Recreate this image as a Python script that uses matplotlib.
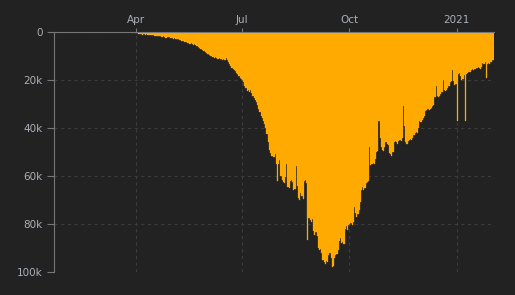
import numpy as np
import pandas as pd
import matplotlib
matplotlib.use("Agg")
import matplotlib.pyplot as plt

# daily new cases, thousands, 22 Jan 2020 -> 1 Feb 2021
jan_2020 = [0, 0, 0, 0, 0, 0, 0, 0, 0.001, 0]
feb_2020 = [0, 0.001, 0.001] + [0] * 26
mar_2020 = [0, 0, 0.003, 0.023, 0.002, 0.001, 0.003, 0.005, 0.009, 0.015, 0.006,
            0.011, 0.010, 0.020, 0.011, 0.006, 0.023, 0.014, 0.038, 0.050, 0.086,
            0.066, 0.103, 0.037, 0.121, 0.070, 0.160, 0.100, 0.227, 0.146, 0.601]
apr_2020 = [0.5, 0.6, 0.9, 1.0, 0.8, 1.1, 0.9, 1.0, 1.2, 1.0, 1.3, 1.2, 1.1, 1.2, 1.3,
            1.4, 1.5, 1.6, 1.5, 1.7, 1.6, 1.8, 1.9, 1.7, 2.0, 2.5, 2.3, 2.0, 2.2, 2.4]
may_2020 = [2.3, 2.6, 2.8, 2.7, 3.0, 2.9, 3.1, 3.2, 3.4, 3.6, 3.8, 4.0, 4.1, 4.3, 4.5,
            4.6, 4.8, 4.7, 5.0, 5.3, 5.2, 5.5, 5.8, 6.2, 6.6, 6.9, 7.2, 7.5, 7.8, 8.2, 8.6]
jun_2020 = [9.0, 9.3, 9.6, 9.9, 10.3, 10.6, 10.8, 10.5, 10.9, 11.2, 11.0, 11.4, 11.3,
            11.6, 11.2, 11.5, 11.0, 11.8, 12.5, 13.4, 14.2, 14.8, 15.4, 15.8, 16.4,
            17.0, 17.5, 18.2, 19.0, 19.4]
jul_2020 = [20.0, 21.0, 22.5, 23.5, 24.5, 24.0, 25.0, 24.2, 25.5, 26.5, 27.5, 28.5,
            29.0, 30.5, 32.0, 33.5, 35.0, 36.0, 37.2, 38.5, 40.0, 42.5, 46.0, 49.0,
            50.5, 51.5, 51.8, 52.0, 51.0, 55.0, 62.0]
aug_2020 = [55.0, 53.5, 60.0, 61.5, 62.5, 63.0, 60.5, 55.0, 64.5, 65.0, 62.0, 61.5,
            62.5, 66.0, 65.5, 56.0, 64.0, 69.0, 70.0, 67.0, 68.5, 69.5, 62.0, 61.5,
            63.0, 86.5, 77.5, 78.5, 79.0, 78.0, 83.0]
sep_2020 = [84.5, 83.5, 85.0, 90.0, 91.0, 90.5, 92.0, 95.0, 96.0, 96.5, 95.5, 96.0,
            93.0, 92.0, 94.0, 98.0, 97.5, 94.0, 93.0, 92.5, 91.0, 87.0, 86.0, 88.0,
            87.5, 88.5, 82.0, 81.0, 82.5, 80.5]
oct_2020 = [80.0, 79.5, 80.5, 79.0, 73.0, 75.5, 77.0, 76.0, 74.0, 71.0, 66.0, 64.5,
            66.0, 65.0, 63.0, 62.5, 62.0, 48.0, 55.5, 55.0, 54.5, 55.0, 53.0, 50.0,
            49.5, 37.0, 44.0, 48.0, 49.0, 49.5, 48.0]
nov_2020 = [46.0, 46.5, 47.0, 50.5, 51.0, 51.5, 50.0, 46.0, 45.5, 46.0, 46.5, 45.5,
            45.0, 45.5, 44.0, 31.0, 39.0, 46.0, 46.5, 45.5, 45.0, 44.5, 45.0, 44.0,
            43.0, 42.0, 41.5, 42.0, 40.0, 37.0]
dec_2020 = [37.5, 36.5, 36.0, 35.0, 33.0, 32.5, 32.0, 32.5, 32.0, 31.5, 31.0, 30.5,
            27.0, 22.5, 26.5, 27.0, 26.5, 26.0, 25.0, 20.0, 24.0, 24.5, 24.0, 23.5,
            22.5, 21.0, 20.5, 16.0, 20.5, 22.0, 21.5]
jan_2021 = [37.0, 17.5, 17.0, 18.5, 20.0, 19.5, 18.0, 37.0, 17.5, 17.0, 16.5, 16.5,
            16.0, 15.5, 16.0, 15.5, 15.5, 15.0, 14.5, 15.0, 15.5, 14.5, 13.0, 13.5,
            12.5, 19.0, 13.5, 13.0, 13.5, 12.5, 11.5]
feb_2021 = [11.5]

tick_dates = ["2020-04-01", "2020-07-01", "2020-10-01", "2021-01-01"]
tick_labels = ["Apr", "Jul", "Oct", "2021"]
y_ticks = [0, 20, 40, 60, 80, 100]
y_labels = ["0", "20k", "40k", "60k", "80k", "100k"]

cases = np.array(jan_2020 + feb_2020 + mar_2020 + apr_2020 + may_2020 + jun_2020 +
                 jul_2020 + aug_2020 + sep_2020 + oct_2020 + nov_2020 + dec_2020 +
                 jan_2021 + feb_2021)
dates = pd.date_range("2020-01-22", periods=len(cases), freq="D")

bg = "#222222"
text_c = "#aab0b8"
bar_c = "#ffaa00"

fig = plt.figure(figsize=(5.15, 2.95), dpi=100, facecolor=bg)
ax = fig.add_axes([54 / 515, 23 / 295, 440 / 515, 240 / 295], facecolor=bg)

# full-day bars, thin same-colour edge so only faint seams remain
ax.bar(dates, cases, width=1.0, color=bar_c, edgecolor=bar_c, linewidth=0.2,
       align="edge", zorder=2)

ax.set_xlim(pd.Timestamp("2020-01-22"), pd.Timestamp("2021-02-02"))
ax.set_ylim(100, 0)

ax.xaxis.tick_top()
ax.set_xticks(pd.to_datetime(tick_dates))
ax.set_xticklabels(tick_labels)
ax.set_yticks(y_ticks)
ax.set_yticklabels(y_labels)

ax.tick_params(axis="x", colors="#777777", labelcolor=text_c, labelsize=7.5,
               length=3, width=0.8, pad=2)
ax.tick_params(axis="y", colors="#777777", labelcolor=text_c, labelsize=7.5,
               length=5, width=0.8, pad=3)

ax.grid(True, color="#3c3c3c", linestyle=(0, (3, 3)), linewidth=0.8, zorder=0)
ax.set_axisbelow(True)

for side in ["right", "bottom"]:
    ax.spines[side].set_visible(False)
ax.spines["left"].set_color("#777777")
ax.spines["top"].set_color("#777777")
ax.spines["left"].set_linewidth(0.8)
ax.spines["top"].set_linewidth(0.8)

fig.savefig("out.png", dpi=100, facecolor=bg)
